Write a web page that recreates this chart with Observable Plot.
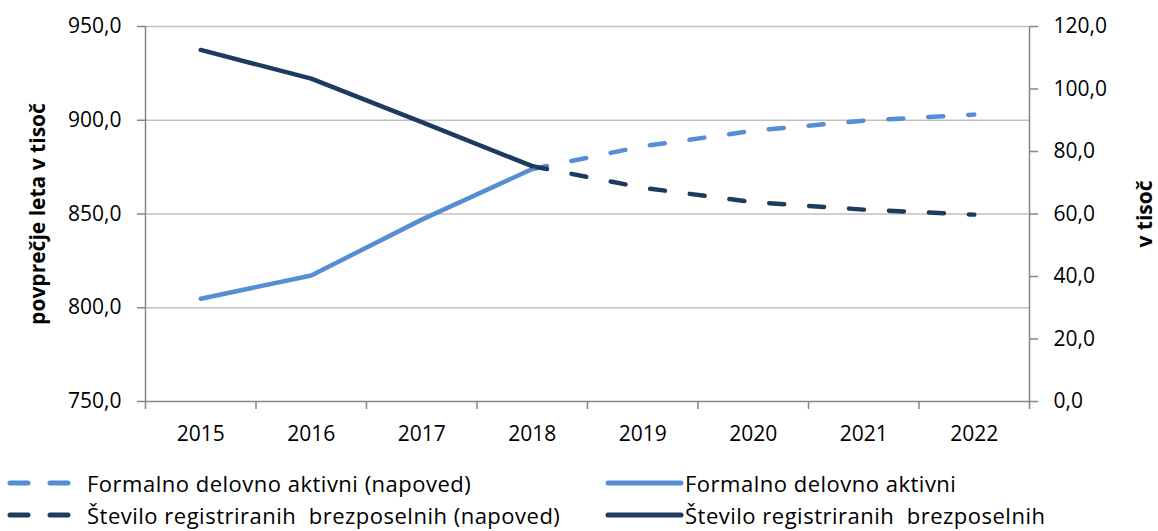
<!DOCTYPE html>
<html>
<head>
<meta charset="utf-8">
<script src="https://cdn.jsdelivr.net/npm/d3@7"></script>
<script src="https://cdn.jsdelivr.net/npm/@observablehq/plot@0.6"></script>
<style>
  html, body { margin: 0; padding: 0; background: #fff; }
  body { font-family: "Open Sans", Lato, sans-serif; }
  #wrap { position: relative; width: 1158px; height: 531px; overflow: hidden; }
  .leg { position: absolute; display: flex; align-items: center; font-size: 22px; letter-spacing: 0.5px; line-height: 26px; color: #000; white-space: pre; }
  .leg svg { display: block; }
</style>
</head>
<body>
<div id="wrap"></div>
<script>
const years = [2015, 2016, 2017, 2018, 2019, 2020, 2021, 2022];
// Formalno delovno aktivni (left axis, thousands)
const activeActual = [804.8, 817.2, 847.0, 874.0];
const activeForecast = [874.0, 886.1, 894.4, 899.8, 903.0];
// Število registriranih brezposelnih (right axis, thousands)
const unempActual = [112.5, 103.3, 89.4, 75.3];
const unempForecast = [75.3, 68.4, 63.8, 61.4, 59.8];
const leftTicks = [750, 800, 850, 900, 950];
const rightTicks = [0, 20, 40, 60, 80, 100, 120];
const leftDomain = [750, 950];
const rightDomain = [0, 120];
const leftTitle = "povprečje leta v tisoč";
const rightTitle = "v tisoč";
const legendLabels = [
  "Formalno delovno aktivni (napoved)",
  "Formalno delovno aktivni",
  "Število registriranih  brezposelnih (napoved)",
  "Število registriranih  brezposelnih"
];

const LIGHT = "#558ED5";
const DARK = "#1F3A5F";
const AXIS = "#868686";
const GRID = "#C0C0C0";

const toLeft = v => leftDomain[0] + (v - rightDomain[0]) * (leftDomain[1] - leftDomain[0]) / (rightDomain[1] - rightDomain[0]);
const fmt = v => v.toFixed(1).replace(".", ",");

const actYears = years.slice(0, 4);
const fcYears = years.slice(3);
const activeA = actYears.map((y, i) => ({year: y, v: activeActual[i]}));
const activeF = fcYears.map((y, i) => ({year: y, v: activeForecast[i]}));
const unempA = actYears.map((y, i) => ({year: y, v: toLeft(unempActual[i])}));
const unempF = fcYears.map((y, i) => ({year: y, v: toLeft(unempForecast[i])}));
const boundaries = d3.range(years.length + 1).map(i => years[0] - 0.5 + i);

const chart = Plot.plot({
  width: 1158,
  height: 455,
  marginLeft: 145,
  marginRight: 129,
  marginTop: 26,
  marginBottom: 54,
  style: {fontFamily: "'Open Sans', Lato, sans-serif", fontSize: "21px", color: "#000", background: "#fff"},
  x: {type: "linear", domain: [years[0] - 0.5, years[years.length - 1] + 0.5]},
  y: {domain: leftDomain},
  marks: [
    Plot.ruleY(leftTicks.slice(1), {stroke: GRID, strokeWidth: 1.5}),
    Plot.ruleX([boundaries[0], boundaries[boundaries.length - 1]], {stroke: AXIS, strokeWidth: 1.5}),
    Plot.ruleY([leftDomain[0]], {stroke: AXIS, strokeWidth: 1.5}),
    Plot.axisY(leftTicks, {anchor: "left", tickSize: 8, tickPadding: 16, stroke: AXIS, strokeWidth: 1.5, tickFormat: fmt, fill: "#000", label: null}),
    Plot.axisY(rightTicks.map(toLeft), {anchor: "right", tickSize: 8, tickPadding: 16, stroke: AXIS, strokeWidth: 1.5,
      tickFormat: d => fmt((d - leftDomain[0]) * (rightDomain[1] - rightDomain[0]) / (leftDomain[1] - leftDomain[0])), fill: "#000", label: null}),
    Plot.axisX(boundaries, {tickSize: 8, stroke: AXIS, strokeWidth: 1.5, tickFormat: () => "", label: null}),
    Plot.axisX(years, {tickSize: 0, tickPadding: 25, tickFormat: d => String(d), fill: "#000", label: null}),
    Plot.line(activeF, {x: "year", y: "v", stroke: LIGHT, strokeWidth: 4.5, strokeDasharray: "15,25", strokeLinecap: "round"}),
    Plot.line(unempF, {x: "year", y: "v", stroke: DARK, strokeWidth: 4.5, strokeDasharray: "15,25", strokeLinecap: "round"}),
    Plot.line(activeA, {x: "year", y: "v", stroke: LIGHT, strokeWidth: 4.5, strokeLinecap: "round"}),
    Plot.line(unempA, {x: "year", y: "v", stroke: DARK, strokeWidth: 4.5, strokeLinecap: "round"}),
    Plot.text([leftTitle], {frameAnchor: "left", dx: -107, dy: 0, rotate: -90, textAnchor: "middle", fontWeight: "bold", fontSize: 21, fill: "#000"}),
    Plot.text([rightTitle], {frameAnchor: "right", dx: 116, rotate: -90, textAnchor: "middle", fontWeight: "bold", fontSize: 21, fill: "#000"})
  ]
});

const wrap = document.getElementById("wrap");
chart.style.position = "absolute";
chart.style.left = "0px";
chart.style.top = "0px";
wrap.appendChild(chart);

function swatch(color, dashed) {
  const ns = "http://www.w3.org/2000/svg";
  const s = document.createElementNS(ns, "svg");
  s.setAttribute("width", 80);
  s.setAttribute("height", 12);
  const l = document.createElementNS(ns, "line");
  l.setAttribute("x1", dashed ? 10 : 3);
  l.setAttribute("x2", dashed ? 72 : 76);
  l.setAttribute("y1", 6);
  l.setAttribute("y2", 6);
  l.setAttribute("stroke", color);
  l.setAttribute("stroke-width", 5);
  l.setAttribute("stroke-linecap", "round");
  if (dashed) l.setAttribute("stroke-dasharray", "18,22");
  s.appendChild(l);
  return s;
}
const items = [
  {label: legendLabels[0], color: LIGHT, dashed: true, left: 0, top: 483, gap: 7},
  {label: legendLabels[1], color: LIGHT, dashed: false, left: 605, top: 483, gap: 0},
  {label: legendLabels[2], color: DARK, dashed: true, left: 0, top: 515, gap: 7},
  {label: legendLabels[3], color: DARK, dashed: false, left: 605, top: 515, gap: 0}
];
for (const it of items) {
  const d = document.createElement("div");
  d.className = "leg";
  d.style.left = it.left + "px";
  d.style.top = (it.top - 13) + "px";
  d.style.height = "26px";
  const sw = swatch(it.color, it.dashed);
  sw.style.marginRight = it.gap + "px";
  d.appendChild(sw);
  const t = document.createElement("span");
  t.textContent = it.label;
  d.appendChild(t);
  wrap.appendChild(d);
}
</script>
</body>
</html>
